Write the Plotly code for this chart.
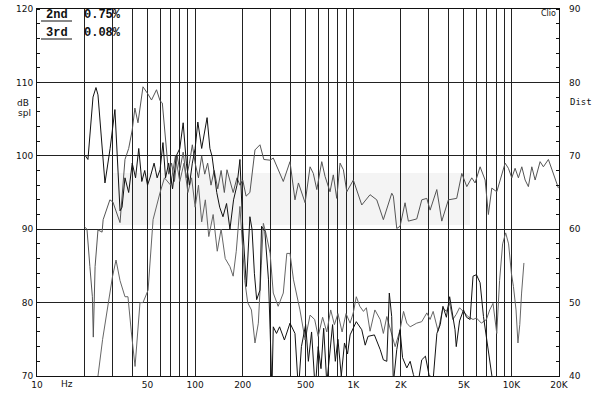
import plotly.graph_objects as go

# ---------------- data ----------------
resp_freq = [20, 20.7, 21.6, 22.4, 22.7, 23.3, 24.3, 25.8, 26.2, 28.9, 30.2, 33.5, 36, 38, 40, 41.6,
             43.5, 46.8, 50, 53, 57, 60, 62, 64, 66, 68, 71, 74, 77, 80, 84, 88, 92, 96, 100, 105,
             110, 115, 120, 126, 132, 139, 146, 153, 159, 168, 174, 184, 192, 200, 210, 222, 239,
             257, 272, 298, 312, 361, 398, 428, 450, 496, 533, 559, 588, 632, 663, 713, 748, 786,
             825, 866, 910, 1001, 1132, 1277, 1408, 1550, 1752, 1793, 1884, 1977, 2126, 2231,
             2521, 2712, 2917, 3061, 3375, 3629, 3995, 4510, 4857, 5223, 5617, 5894, 6340, 6820,
             7153, 7516, 8084, 9125, 9573, 10060, 10553, 11073, 11636, 12213, 12808, 13459,
             14130, 15189, 15937, 17140, 18437, 19831]
resp_db = [90.3, 90.0, 84.9, 80.8, 75.3, 84.9, 89.9, 89.6, 91.3, 94.0, 93.7, 90.9, 99.5, 101.0, 103.5,
           106.5, 104.5, 109.4, 108.5, 107.6, 109.0, 107.5, 107.2, 104.0, 100.0, 97.5, 99.0, 96.5,
           100.0, 98.0, 100.5, 97.0, 99.0, 101.5, 99.0, 97.0, 100.0, 97.5, 99.0, 96.0, 98.0, 95.5,
           98.0, 95.0, 98.1, 96.0, 95.0, 97.0, 96.0, 96.7, 94.5, 95.0, 100.8, 101.5, 99.5, 99.4,
           99.7, 96.5, 99.2, 94.0, 96.3, 93.6, 98.5, 97.6, 95.4, 99.2, 97.2, 95.1, 97.4, 94.2,
           99.0, 98.1, 95.1, 96.7, 93.3, 94.7, 94.0, 91.3, 94.9, 94.5, 90.1, 90.4, 93.6, 91.1,
           91.4, 94.0, 94.2, 92.6, 95.4, 91.1, 94.0, 94.2, 97.6, 95.8, 97.0, 96.3, 98.5, 96.7,
           92.0, 95.6, 95.1, 99.0, 98.3, 97.0, 98.3, 97.0, 98.5, 96.7, 95.8, 98.5, 96.7, 99.2,
           98.5, 99.5, 97.4, 95.6]

h2_freq = [20.1, 21.0, 22.6, 23.6, 24.3, 26.9, 29.0, 31.1, 33.5, 34.5, 36, 38, 40, 42, 44, 46, 48,
           50, 52, 55, 57.5, 60, 62.6, 65, 68, 72, 76, 80, 84, 88, 92, 96, 100, 104, 110, 114, 119,
           124, 128, 137, 143, 150, 158, 166, 175, 184, 192, 200, 206, 211, 222, 229, 237, 245,
           257, 263, 276, 284, 291, 298, 306, 312, 327, 342, 367, 398, 428, 450, 470, 500, 520,
           545, 575, 600, 625, 650, 680, 710, 740, 770, 800, 840, 880, 920, 955, 1045, 1132, 1190,
           1240, 1360, 1480, 1550, 1630, 1690, 1750, 1793, 1884, 1977, 2050, 2180, 2290, 2400,
           2550, 2710, 2860, 3010, 3200, 3380, 3550, 3690, 3880, 4070, 4250, 4400, 4480, 4700,
           4980, 5200, 5480, 5720, 6010, 6340, 6660, 6950, 7290, 7650, 8000]
h2_db = [100.1, 99.5, 108.0, 109.3, 108.3, 96.3, 101.0, 106.3, 92.5, 93.0, 97.0, 95.0, 99.0, 97.0,
         101.0, 96.5, 98.0, 96.0, 97.1, 99.0, 97.0, 98.1, 101.8, 97.0, 99.0, 95.5, 100.0, 101.0,
         104.5, 99.0, 96.0, 99.0, 101.0, 104.6, 101.0, 103.0, 105.2, 101.0, 99.9, 95.0, 93.0, 91.7,
         93.5, 90.0, 94.0, 96.0, 99.5, 90.3, 84.9, 82.2, 91.7, 90.0, 84.0, 80.4, 81.7, 90.4, 89.7,
         86.7, 83.1, 76.3, 68.0, 76.7, 75.8, 76.7, 74.9, 77.2, 75.8, 68.0, 74.0, 77.0, 72.0, 76.0,
         68.0, 74.0, 71.0, 76.5, 69.0, 73.0, 77.0, 72.0, 75.0, 70.0, 74.5, 73.0, 75.6, 77.4, 76.3,
         74.2, 75.4, 75.6, 73.6, 72.2, 72.0, 81.3, 78.1, 69.0, 73.6, 76.3, 72.5, 71.1, 72.0, 70.2,
         68.5, 72.2, 72.7, 70.2, 69.5, 75.8, 77.0, 79.5, 78.0, 80.8, 78.0, 76.3, 74.0, 77.5, 79.0,
         78.0, 77.7, 83.6, 83.8, 82.7, 78.1, 75.4, 72.2, 69.5, 66.0]

h3_freq = [23.5, 24.3, 26, 28, 30, 31.6, 33.5, 36, 37.6, 39.5, 41.7, 44.8, 46.8, 50.4, 54.2, 60, 64,
           70, 75, 80, 85, 90, 95, 100, 105, 110, 116, 122, 130, 138, 146, 155, 166, 174, 182, 192,
           197, 206, 215, 227, 239, 251, 262, 270, 280, 298, 312, 335, 361, 380, 398, 419, 460,
           496, 533, 570, 600, 640, 680, 720, 760, 800, 850, 900, 955, 1000, 1045, 1100, 1160,
           1210, 1277, 1370, 1480, 1550, 1630, 1730, 1840, 1977, 2080, 2180, 2290, 2520, 2710,
           2920, 3060, 3200, 3440, 3690, 3880, 4070, 4260, 4480, 4700, 5060, 5310, 5720, 6010,
           6460, 6950, 7290, 7650, 8080, 8420, 8800, 9200, 9600, 10000, 10300, 10700, 11000,
           11300, 11600, 12000]
h3_db = [66.0, 70.0, 75.0, 79.5, 83.5, 85.8, 83.0, 80.8, 80.8, 76.0, 71.3, 80.0, 80.0, 81.7, 91.3,
         95.0, 97.0, 96.0, 100.0, 96.5, 99.0, 95.0, 97.0, 93.0, 96.0, 91.0, 94.0, 89.0, 92.0, 87.0,
         90.0, 86.0, 84.9, 83.6, 87.0, 93.1, 89.5, 83.0, 80.0, 79.0, 74.5, 77.2, 85.0, 90.8, 89.5,
         86.7, 81.3, 79.5, 81.3, 86.7, 86.7, 83.1, 79.0, 74.9, 78.3, 77.7, 75.4, 78.0, 76.0, 79.0,
         77.0, 78.5, 76.0, 78.5, 77.2, 78.6, 80.8, 79.5, 78.8, 79.3, 76.1, 79.0, 77.7, 75.8, 78.1,
         76.0, 74.0, 76.3, 78.8, 77.2, 76.7, 77.2, 77.4, 78.6, 77.7, 78.8, 76.1, 79.3, 78.8, 79.9,
         77.7, 78.4, 79.3, 78.6, 78.1, 77.7, 77.9, 77.2, 77.7, 79.0, 79.9, 75.8, 83.0, 88.0, 89.5,
         88.0, 84.0, 82.2, 79.0, 74.5, 77.0, 81.3, 85.4]

x_grid = [10, 20, 30, 40, 50, 60, 70, 80, 90,
          100, 200, 300, 400, 500, 600, 700, 800, 900,
          1000, 2000, 3000, 4000, 5000, 6000, 7000, 8000, 9000,
          10000, 20000]
x_labels = ["10", "", "", "", "50", "", "", "", "",
            "100", "200", "", "", "500", "", "", "", "",
            "1K", "2K", "", "", "5K", "", "", "", "",
            "10K", "20K"]
left_ticks = [70, 80, 90, 100, 110, 120]
right_ticks = [40, 50, 60, 70, 80, 90]
legend_names = ["2nd", "3rd"]
legend_values = ["0.75%", "0.08%"]

# ---------------- figure ----------------
W, H = 600, 396
L, R, T, B = 37, 41, 9, 20
PW, PH = W - L - R, H - T - B


def px(x):
    return (x - L) / PW


def py(y):
    return (H - B - y) / PH


fig = go.Figure()
fig.add_trace(go.Scatter(x=resp_freq, y=resp_db, mode="lines",
                         line=dict(color="#555555", width=1), showlegend=False))
fig.add_trace(go.Scatter(x=h3_freq, y=h3_db, mode="lines",
                         line=dict(color="#666666", width=1), showlegend=False))
fig.add_trace(go.Scatter(x=h2_freq, y=h2_db, mode="lines",
                         line=dict(color="#111111", width=1), showlegend=False))
# helper so the right axis is drawn
fig.add_trace(go.Scatter(x=[100], y=[60], yaxis="y2", mode="markers",
                         marker=dict(opacity=0), hoverinfo="skip", showlegend=False))

tickfont = dict(family="DejaVu Sans", size=9, color="#111111")

fig.update_layout(
    width=W, height=H,
    margin=dict(l=L, r=R, t=T, b=B, pad=0, autoexpand=False),
    paper_bgcolor="white", plot_bgcolor="white",
    xaxis=dict(type="log", range=[1, 4.30103], tickvals=x_grid, ticktext=x_labels,
               showgrid=True, gridcolor="#222222", gridwidth=1, automargin=False,
               showline=True, linecolor="#111111", linewidth=1, mirror=True,
               ticks="", tickfont=tickfont, zeroline=False),
    yaxis=dict(range=[70, 120], tickvals=left_ticks, showgrid=True, gridcolor="#222222",
               gridwidth=1, showline=True, linecolor="#111111", linewidth=1, mirror=True,
               ticks="", tickfont=tickfont, zeroline=False, automargin=False,
               ticklabelstandoff=1,
               minor=dict(dtick=2, ticks="inside", ticklen=3, tickcolor="#111111", showgrid=False)),
    yaxis2=dict(range=[40, 90], tickvals=right_ticks, overlaying="y", side="right",
                showgrid=False, zeroline=False, ticks="", tickfont=tickfont, automargin=False,
                ticklabelstandoff=9,
                minor=dict(dtick=2, ticks="inside", ticklen=3, tickcolor="#111111", showgrid=False)),
)

shapes = [
    # faint watermark panel
    dict(type="rect", xref="paper", yref="paper", x0=px(112), x1=px(470), y0=py(225), y1=py(173),
         fillcolor="#f4f4f4", line=dict(width=0), layer="below"),
    # white box behind legend
    dict(type="rect", xref="paper", yref="paper", x0=px(37.6), x1=px(126), y0=py(40), y1=py(9.6),
         fillcolor="white", line=dict(width=0), layer="between"),
    # underlines
    dict(type="line", xref="paper", yref="paper", x0=px(41), x1=px(72), y0=py(21), y1=py(21),
         line=dict(color="#111111", width=1)),
    dict(type="line", xref="paper", yref="paper", x0=px(41), x1=px(72), y0=py(39), y1=py(39),
         line=dict(color="#111111", width=1)),
]
fig.update_layout(shapes=shapes)

ann = []
lfont = dict(family="Liberation Mono", size=12, color="#111111")
for i, (nm, val) in enumerate(zip(legend_names, legend_values)):
    yy = 15 + i * 18
    ann.append(dict(text="<b>" + nm + "</b>", x=px(57), y=py(yy), xref="paper", yref="paper",
                    showarrow=False, font=lfont, xanchor="center", yanchor="middle"))
    ann.append(dict(text="<b>" + val + "</b>", x=px(102), y=py(yy), xref="paper", yref="paper",
                    showarrow=False, font=lfont, xanchor="center", yanchor="middle"))

sfont = dict(family="DejaVu Sans", size=9, color="#111111")
ann += [
    dict(text="Hz", x=px(67), y=py(384), xref="paper", yref="paper", showarrow=False,
         font=sfont, xanchor="center", yanchor="middle"),
    dict(text="dB", x=px(23), y=py(103), xref="paper", yref="paper", showarrow=False,
         font=sfont, xanchor="center", yanchor="middle"),
    dict(text="spl", x=px(24), y=py(113), xref="paper", yref="paper", showarrow=False,
         font=sfont, xanchor="center", yanchor="middle"),
    dict(text="Dist", x=px(581), y=py(102), xref="paper", yref="paper", showarrow=False,
         font=dict(family="DejaVu Sans Mono", size=9, color="#111111"),
         xanchor="center", yanchor="middle"),
    dict(text="Clio", x=px(548), y=py(14), xref="paper", yref="paper", showarrow=False,
         font=dict(family="DejaVu Sans", size=8, color="#111111"),
         xanchor="center", yanchor="middle"),
]
fig.update_layout(annotations=ann)

fig.write_html("out.html", config={"displayModeBar": False},
               post_script="document.body.style.margin='0px';")
